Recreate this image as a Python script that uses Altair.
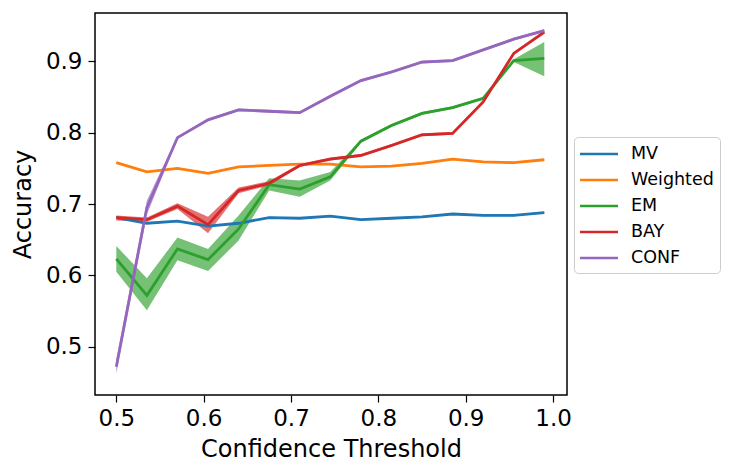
import altair as alt
import pandas as pd

thresholds = [0.5, 0.535, 0.57, 0.605, 0.64, 0.675, 0.71, 0.745, 0.78, 0.815, 0.85, 0.885, 0.92, 0.955, 0.99]

series_names = ["MV", "Weighted", "EM", "BAY", "CONF"]
series_colors = ["#1f77b4", "#ff7f0e", "#2ca02c", "#d62728", "#9467bd"]

mv_mean = [0.681, 0.673, 0.676, 0.669, 0.673, 0.681, 0.680, 0.683, 0.678, 0.680, 0.682, 0.686, 0.684, 0.684, 0.688]
mv_lo   = [0.680, 0.672, 0.675, 0.668, 0.672, 0.680, 0.679, 0.682, 0.677, 0.679, 0.681, 0.685, 0.683, 0.683, 0.687]
mv_hi   = [0.682, 0.674, 0.677, 0.670, 0.674, 0.682, 0.681, 0.684, 0.679, 0.681, 0.683, 0.687, 0.685, 0.685, 0.689]

wt_mean = [0.758, 0.745, 0.750, 0.743, 0.752, 0.754, 0.756, 0.756, 0.752, 0.753, 0.757, 0.763, 0.759, 0.758, 0.762]
wt_lo   = [0.757, 0.744, 0.749, 0.742, 0.751, 0.753, 0.755, 0.755, 0.751, 0.752, 0.756, 0.762, 0.758, 0.757, 0.761]
wt_hi   = [0.759, 0.746, 0.751, 0.744, 0.753, 0.755, 0.757, 0.757, 0.753, 0.754, 0.758, 0.764, 0.760, 0.759, 0.763]

em_mean = [0.623, 0.572, 0.637, 0.622, 0.665, 0.727, 0.721, 0.738, 0.788, 0.810, 0.827, 0.835, 0.848, 0.901, 0.904]
em_lo   = [0.605, 0.551, 0.621, 0.606, 0.649, 0.719, 0.710, 0.733, 0.786, 0.808, 0.825, 0.833, 0.846, 0.899, 0.879]
em_hi   = [0.641, 0.596, 0.653, 0.637, 0.684, 0.736, 0.733, 0.745, 0.790, 0.812, 0.829, 0.837, 0.850, 0.903, 0.927]

bay_mean = [0.681, 0.678, 0.697, 0.671, 0.719, 0.729, 0.754, 0.763, 0.768, 0.782, 0.797, 0.799, 0.843, 0.911, 0.941]
bay_lo   = [0.677, 0.675, 0.693, 0.659, 0.715, 0.726, 0.752, 0.761, 0.766, 0.780, 0.795, 0.797, 0.841, 0.909, 0.939]
bay_hi   = [0.684, 0.681, 0.701, 0.682, 0.723, 0.732, 0.756, 0.765, 0.770, 0.784, 0.799, 0.801, 0.845, 0.913, 0.943]

conf_mean = [0.472, 0.695, 0.793, 0.818, 0.832, 0.830, 0.828, 0.851, 0.873, 0.885, 0.899, 0.901, 0.916, 0.931, 0.943]
conf_lo   = [0.462, 0.685, 0.791, 0.816, 0.830, 0.828, 0.826, 0.849, 0.871, 0.883, 0.897, 0.899, 0.914, 0.929, 0.941]
conf_hi   = [0.482, 0.705, 0.795, 0.820, 0.834, 0.832, 0.830, 0.853, 0.875, 0.887, 0.901, 0.903, 0.918, 0.933, 0.945]

means = [mv_mean, wt_mean, em_mean, bay_mean, conf_mean]
lows = [mv_lo, wt_lo, em_lo, bay_lo, conf_lo]
highs = [mv_hi, wt_hi, em_hi, bay_hi, conf_hi]

rows = []
for k, name in enumerate(series_names):
    for i, t in enumerate(thresholds):
        rows.append({"series": name, "x": t,
                     "mean": means[k][i], "lo": lows[k][i], "hi": highs[k][i]})
df = pd.DataFrame(rows)

FONT = "DejaVu Sans"

xscale = alt.Scale(domain=[0.4756, 1.016], nice=False, zero=False)
yscale = alt.Scale(domain=[0.4323, 0.9677], nice=False, zero=False)

xaxis = alt.Axis(values=[0.5, 0.6, 0.7, 0.8, 0.9, 1.0], format=".1f", title="Confidence Threshold",
                 grid=False, domain=False, tickColor="black", tickWidth=1.2, tickSize=7,
                 labelFontSize=23, labelFont=FONT, labelColor="black", labelPadding=5,
                 titleFontSize=24, titleFont=FONT, titleFontWeight="normal", titleColor="black",
                 titlePadding=7)
yaxis = alt.Axis(values=[0.5, 0.6, 0.7, 0.8, 0.9], format=".1f", title="Accuracy",
                 grid=False, domain=False, tickColor="black", tickWidth=1.2, tickSize=7,
                 labelFontSize=23, labelFont=FONT, labelColor="black", labelPadding=6,
                 titleFontSize=24, titleFont=FONT, titleFontWeight="normal", titleColor="black",
                 titlePadding=10)

base = alt.Chart(df)

band_layers = []
for name, col in zip(series_names, series_colors):
    band_layers.append(
        base.transform_filter(alt.datum.series == name).mark_area(color=col, opacity=0.65).encode(
            x=alt.X("x:Q", scale=xscale, axis=xaxis),
            y=alt.Y("lo:Q", scale=yscale, axis=yaxis),
            y2="hi:Q",
        )
    )

lines = base.mark_line(strokeWidth=2.8).encode(
    x=alt.X("x:Q", scale=xscale, axis=xaxis),
    y=alt.Y("mean:Q", scale=yscale, axis=yaxis),
    color=alt.Color("series:N", scale=alt.Scale(domain=series_names, range=series_colors),
                    sort=series_names,
                    legend=alt.Legend(title=None, orient="none", legendX=479, legendY=124,
                                      symbolType="M-2,0H2", symbolSize=361, symbolStrokeWidth=2.5,
                                      symbolOffset=8, labelOffset=21, rowPadding=6,
                                      labelFontSize=17.5, labelFont=FONT, labelColor="black",
                                      padding=6, strokeColor="#cccccc", fillColor="white",
                                      cornerRadius=4)),
    order=alt.Order("x:Q"),
)

chart = alt.layer(*band_layers, lines).properties(
    width=472, height=382,
    background="white",
    autosize=alt.AutoSizeParams(type="none"),
    padding={"left": 87, "top": 5, "right": 160, "bottom": 72},
).configure_view(stroke="black", strokeWidth=1.5)

chart.save("out.html", embed_options={"renderer": "svg", "actions": False})
